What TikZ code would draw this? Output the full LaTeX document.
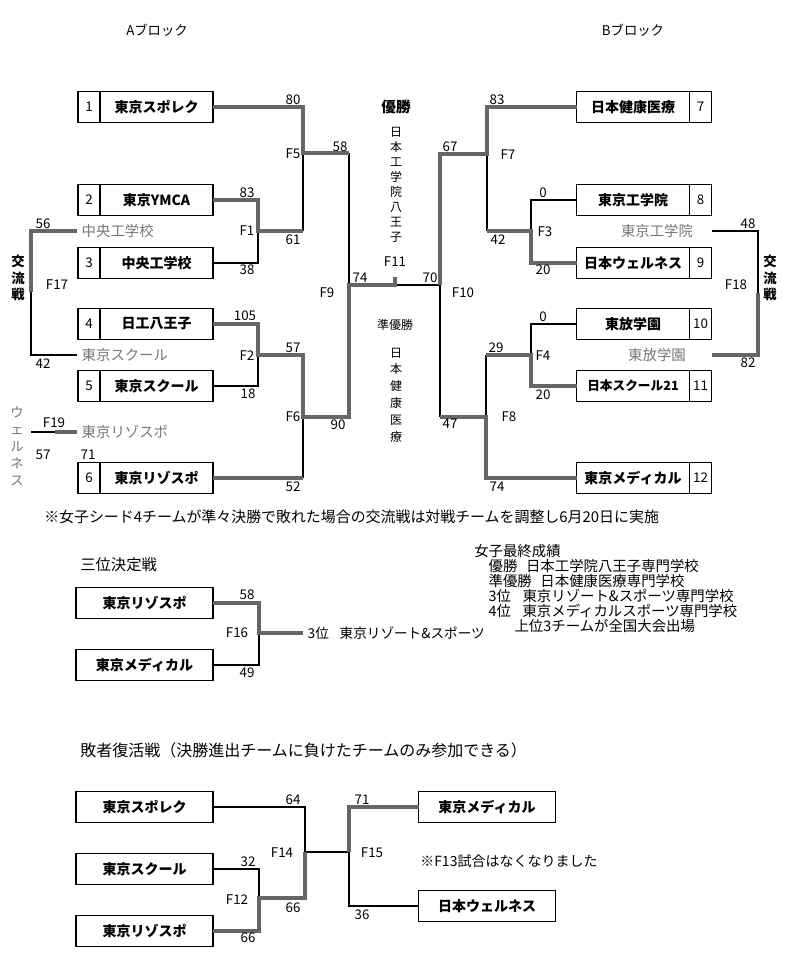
\documentclass[tikz,border=0pt]{standalone}
\usepackage{fontspec}
\setmainfont{Noto Sans CJK JP}
\usepackage{xcolor}
\definecolor{wingray}{RGB}{102, 102, 102}
\definecolor{subgray}{RGB}{118, 118, 118}
\usetikzlibrary{positioning}

\begin{document}
\begin{tikzpicture}[
    x=0.75pt, y=-0.75pt,
    numcell/.style={rectangle, draw, line width=1pt, minimum width=16.5pt, minimum height=23.25pt, inner sep=0pt, outer sep=0pt, font=\fontsize{10}{12}\selectfont},
    namecell/.style={rectangle, draw, line width=1pt, minimum width=84.75pt, minimum height=23.25pt, inner sep=0pt, outer sep=0pt, font=\bfseries\fontsize{10.5}{12}\selectfont},
    widecell/.style={namecell, minimum width=102.75pt},
    win/.style={line width=3pt, wingray},
    lose/.style={line width=1.1pt},
    score/.style={font=\fontsize{10}{12}\selectfont, inner sep=0pt},
    sub/.style={subgray, font=\fontsize{10.8}{12}\selectfont},
    head/.style={font=\fontsize{11.2}{13}\selectfont, anchor=west, inner sep=0pt},
    vtext/.style={align=center, inner sep=0pt}
]
    \useasboundingbox (0,0) rectangle (800,958);

    % block titles
    \node[font=\fontsize{10}{12}\selectfont] (blockA) at (157,30) {Aブロック};
    \node[font=\fontsize{10}{12}\selectfont] (blockB) at (633,30) {Bブロック};

    % A block teams
    \node[numcell] (n1) at (89,107) {1};
    \node[namecell, right=0pt of n1] (t1) {東京スポレク};
    \node[numcell] (n2) at (89,200) {2};
    \node[namecell, right=0pt of n2] (t2) {東京YMCA};
    \node[numcell] (n3) at (89,263) {3};
    \node[namecell, right=0pt of n3] (t3) {中央工学校};
    \node[numcell] (n4) at (89,324) {4};
    \node[namecell, right=0pt of n4] (t4) {日工八王子};
    \node[numcell] (n5) at (89,386) {5};
    \node[namecell, right=0pt of n5] (t5) {東京スクール};
    \node[numcell] (n6) at (89,478) {6};
    \node[namecell, right=0pt of n6] (t6) {東京リゾスポ};

    % B block teams
    \node[namecell] (t7) at (633,107) {日本健康医療};
    \node[numcell, right=0pt of t7] (n7) {7};
    \node[namecell] (t8) at (633,200) {東京工学院};
    \node[numcell, right=0pt of t8] (n8) {8};
    \node[namecell] (t9) at (633,263) {日本ウェルネス};
    \node[numcell, right=0pt of t9] (n9) {9};
    \node[namecell] (t10) at (633,324) {東放学園};
    \node[numcell, right=0pt of t10] (n10) {10};
    \node[namecell, font=\bfseries\fontsize{9.5}{12}\selectfont] (t11) at (633,386) {日本スクール21};
    \node[numcell, right=0pt of t11] (n11) {11};
    \node[namecell] (t12) at (633,478) {東京メディカル};
    \node[numcell, right=0pt of t12] (n12) {12};

    % exchange match entries
    \node[sub, anchor=west] (g1) at (77,231) {中央工学校};
    \node[sub, anchor=west] (g2) at (77,355) {東京スクール};
    \node[sub] (g3) at (657,231) {東京工学院};
    \node[sub] (g4) at (657,355) {東放学園};
    \node[sub, anchor=west] (g5) at (77,432) {東京リゾスポ};

    % match points
    \coordinate (f1) at (258,231);
    \coordinate (f2) at (258,355);
    \coordinate (f5) at (303,153);
    \coordinate (f6) at (303,417);
    \coordinate (f9) at (349,285);
    \coordinate (f11) at (395,285);
    \coordinate (f3) at (531,231);
    \coordinate (f4) at (531,355);
    \coordinate (f7) at (487,154);
    \coordinate (f8) at (486,417);
    \coordinate (f10) at (440,285);
    \coordinate (f17) at (31,292);
    \coordinate (f18) at (758,293);
    \coordinate (f19) at (55,432);
    \coordinate (e19) at (31,432);

    % losing sides
    \draw[lose] (t3.east) -| (f1);
    \draw[lose] (f1 -| f5) -- (f5);
    \draw[lose] (f5 -| f9) -- (f9);
    \draw[lose] (t5.east) -| (f2);
    \draw[lose] (t6.east -| f6) -- (f6);
    \draw[lose] (f11) -- (f10);
    \draw[lose] (f7) -- (f7 |- f3);
    \draw[lose] (t8.west) -| (f3);
    \draw[lose] (t10.west) -| (f4);
    \draw[lose] (f4 -| f8) -- (f8);
    \draw[lose] (f10 |- f8) -- (f10);
    \draw[lose] (f17) |- (g2.west);
    \draw[lose] (g3 -| n8.east) -| (f18);
    \draw[lose] (e19) -- (f19);

    % winning sides
    \draw[win] (t1.east) -| (f5) -- (f5 -| f9);
    \draw[win] (t2.east) -| (f1) -- (f1 -| f5);
    \draw[win] (t4.east) -| (f2) -- (f2 -| f6) -- (f6) -- (f9 |- f6) -- (f9) -- (f11) -- ++(0,-8);
    \draw[win] (t6.east) -- (t6.east -| f6);
    \draw[win] (t7.west) -| (f7) -- (f10 |- f7) -- (f10);
    \draw[win] (f7 |- f3) -- (f3) |- (t9.west);
    \draw[win] (t11.west) -| (f4) -- (f4 -| f8);
    \draw[win] (t12.west) -| (f8) -- (f10 |- f8);
    \draw[win] (g1.west) -| (f17);
    \draw[win] (f18) |- (g4 -| n8.east);
    \draw[win] (f19) -- (g5.west);

    % scores and match labels
    \node[score] (f1t) at (247,193) {83};
    \node[score] (f1l) at (247,231) {F1};
    \node[score] (f1b) at (247,270) {38};
    \node[score] (f2t) at (245,316) {105};
    \node[score] (f2l) at (247,356) {F2};
    \node[score] (f2b) at (248,394) {18};
    \node[score] (f5t) at (293,100) {80};
    \node[score] (f5l) at (293,154) {F5};
    \node[score] (f5b) at (293,240) {61};
    \node[score] (f6t) at (293,348) {57};
    \node[score] (f6l) at (293,417) {F6};
    \node[score] (f6b) at (293,487) {52};
    \node[score] (f9t) at (340,147) {58};
    \node[score] (f9l) at (327,293) {F9};
    \node[score] (f9b) at (338,425) {90};
    \node[score] (f11t) at (360,278) {74};
    \node[score] (f11l) at (395,262) {F11};
    \node[score] (f11b) at (430,278) {70};
    \node[score] (f7t) at (497,100) {83};
    \node[score] (f7l) at (508,155) {F7};
    \node[score] (f7b) at (498,240) {42};
    \node[score] (f3t) at (543,193) {0};
    \node[score] (f3l) at (545,232) {F3};
    \node[score] (f3b) at (543,270) {20};
    \node[score] (f4t) at (543,317) {0};
    \node[score] (f4l) at (543,356) {F4};
    \node[score] (f4b) at (543,395) {20};
    \node[score] (f8t) at (496,348) {29};
    \node[score] (f8l) at (509,417) {F8};
    \node[score] (f8b) at (497,487) {74};
    \node[score] (f10t) at (450,147) {67};
    \node[score] (f10l) at (463,293) {F10};
    \node[score] (f10b) at (450,424) {47};
    \node[score] (f17t) at (43,224) {56};
    \node[score] (f17l) at (57,285) {F17};
    \node[score] (f17b) at (43,364) {42};
    \node[score] (f18t) at (748,224) {48};
    \node[score] (f18l) at (736,285) {F18};
    \node[score] (f18b) at (748,363) {82};
    \node[score] (f19l) at (54,423) {F19};
    \node[score] (f19a) at (43,455) {57};
    \node[score] (f19b) at (88,455) {71};

    % centre: final
    \node[font=\bfseries\fontsize{11}{13}\selectfont] (champ) at (396,107) {優勝};
    \node[vtext, font=\fontsize{9}{11.25}\selectfont] (champname) at (396,184.5) {日\\本\\工\\学\\院\\八\\王\\子};
    \node[font=\fontsize{9}{11}\selectfont] (runner) at (395,325) {準優勝};
    \node[vtext, font=\fontsize{9}{12.6}\selectfont] (runnername) at (396,395) {日\\本\\健\\康\\医\\療};

    % exchange match side labels
    \node[vtext, font=\bfseries\fontsize{10}{12.4}\selectfont] (exA) at (18,278) {交\\流\\戦};
    \node[vtext, font=\bfseries\fontsize{10}{12.4}\selectfont] (exB) at (770,278) {交\\流\\戦};
    \node[vtext, subgray, font=\fontsize{10}{12.75}\selectfont] (wellness) at (17,446) {ウ\\ェ\\ル\\ネ\\ス};

    \node[head] (note) at (44,517) {※女子シード4チームが準々決勝で敗れた場合の交流戦は対戦チームを調整し6月20日に実施};

    % third place match
    \node[head, font=\fontsize{11.5}{13}\selectfont] (thirdtitle) at (80,565) {三位決定戦};
    \node[widecell] (p1) at (144.5,603) {東京リゾスポ};
    \node[widecell] (p2) at (144.5,665) {東京メディカル};
    \coordinate (f16) at (259,633);
    \node[anchor=west, font=\fontsize{10.2}{12}\selectfont] (third) at (303,633) {3位\hspace{0.8em}東京リゾート\&スポーツ};
    \draw[lose] (p2.east) -| (f16);
    \draw[win] (p1.east) -| (f16) -- (third.west);
    \node[score] (f16t) at (247,595) {58};
    \node[score] (f16l) at (237,633) {F16};
    \node[score] (f16b) at (247,673) {49};

    % final standings
    \node[anchor=north west, align=left, inner sep=0pt, font=\fontsize{10.8}{11.25}\selectfont] (standings) at (474,544) {女子最終成績\\
        \hspace*{1em}優勝\hspace{0.6em}日本工学院八王子専門学校\\
        \hspace*{1em}準優勝\hspace{0.6em}日本健康医療専門学校\\
        \hspace*{1em}3位\hspace{0.8em}東京リゾート\&スポーツ専門学校\\
        \hspace*{1em}4位\hspace{0.8em}東京メディカルスポーツ専門学校\\
        \hspace*{2.8em}上位3チームが全国大会出場};

    % repechage
    \node[head, font=\fontsize{12}{14}\selectfont] (reptitle) at (80,750) {敗者復活戦（決勝進出チームに負けたチームのみ参加できる）};
    \node[widecell] (q1) at (144.5,807) {東京スポレク};
    \node[widecell] (q2) at (144.5,869) {東京スクール};
    \node[widecell] (q3) at (144.5,931) {東京リゾスポ};
    \node[widecell] (q4) at (487,807) {東京メディカル};
    \node[widecell] (q5) at (487,906) {日本ウェルネス};
    \coordinate (f12) at (259,898);
    \coordinate (f14) at (305,852);
    \coordinate (f15) at (349,852);
    \draw[lose] (q1.east) -| (f14);
    \draw[lose] (q2.east) -| (f12);
    \draw[lose] (f14) -- (f15);
    \draw[lose] (f15) |- (q5.west);
    \draw[win] (q3.east) -| (f12) -- (f12 -| f14) -- (f14);
    \draw[win] (f15) |- (q4.west);
    \node[score] (f12t) at (248,862) {32};
    \node[score] (f12l) at (237,900) {F12};
    \node[score] (f12b) at (248,938) {66};
    \node[score] (f14t) at (293,800) {64};
    \node[score] (f14l) at (282,853) {F14};
    \node[score] (f14b) at (293,908) {66};
    \node[score] (f15t) at (362,800) {71};
    \node[score] (f15l) at (372,853) {F15};
    \node[score] (f15b) at (362,915) {36};
    \node[anchor=west, inner sep=0pt, font=\fontsize{10.5}{12}\selectfont] (f13note) at (420,861) {※F13試合はなくなりました};
\end{tikzpicture}
\end{document}
